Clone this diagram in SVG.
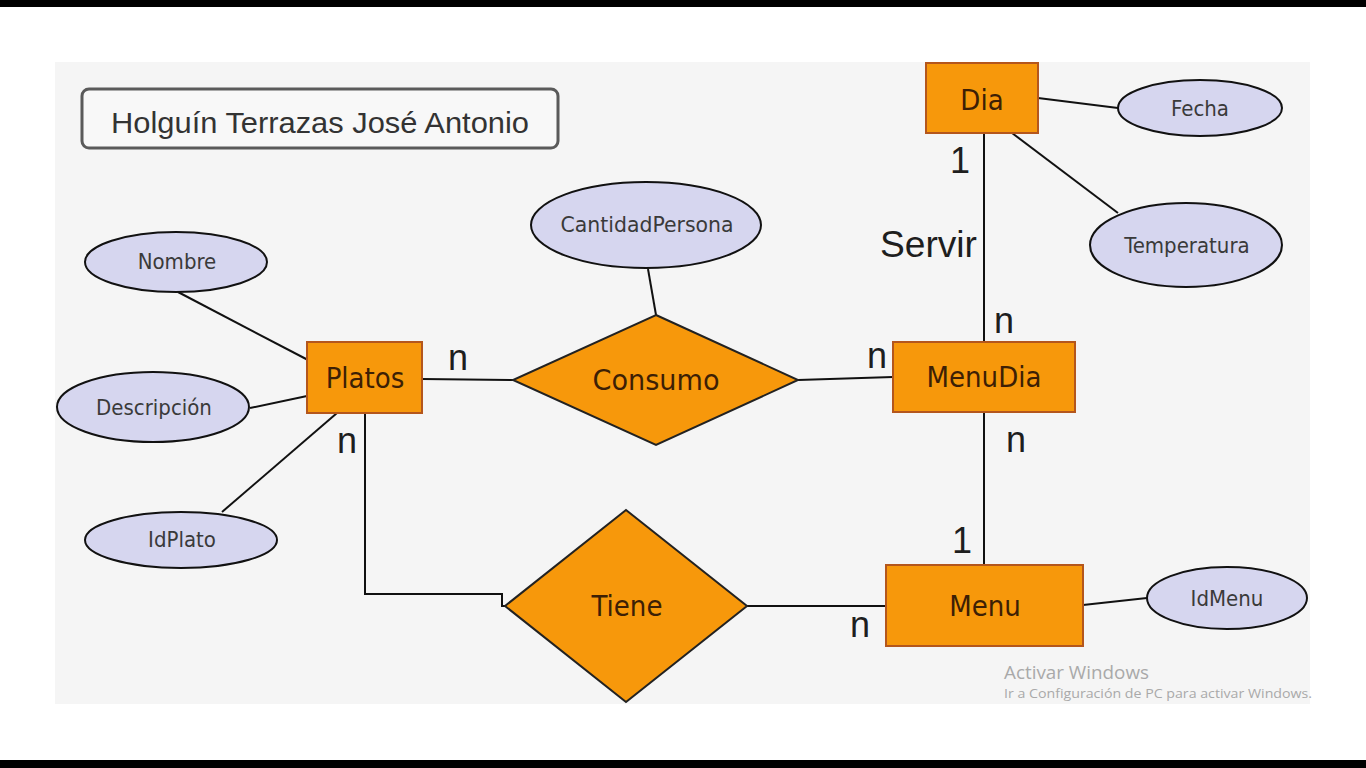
<svg xmlns="http://www.w3.org/2000/svg" width="1366" height="768" viewBox="0 0 1366 768">
<style>
.ent{fill:#f7980b;stroke:#b4561c;stroke-width:2}
.rel{fill:#f7980b;stroke:#222;stroke-width:2}
.att{fill:#d6d6ef;stroke:#111;stroke-width:2}
.lbl{font-family:"DejaVu Sans Condensed","DejaVu Sans",sans-serif;text-anchor:middle}
.et{font-size:29px;fill:#3d1f05}
.at{font-size:22px;fill:#3a3a3a}
.card{font-family:"Liberation Sans",Arial,sans-serif;font-size:36px;fill:#1e1e1e;text-anchor:middle}
.conn line,.conn path{stroke:#111;stroke-width:2;fill:none}
.wm{font-family:"Open Sans","Noto Sans",sans-serif;fill:#a9a9a9}
</style>
<rect x="0" y="0" width="1366" height="768" fill="#ffffff"/>
<rect x="0" y="0" width="1366" height="7" fill="#000"/>
<rect x="0" y="760" width="1366" height="8" fill="#000"/>
<rect x="55" y="62" width="1255" height="642" fill="#f5f5f5"/>

<g id="title">
<rect x="82" y="89" width="476" height="59" rx="7" fill="#f8f8f8" stroke="#5a5a5a" stroke-width="3"/>
<text x="111" y="133" font-family="'Liberation Sans',Arial,sans-serif" font-size="30" fill="#333" textLength="418" lengthAdjust="spacingAndGlyphs">Holguín Terrazas José Antonio</text>
</g>

<g class="conn" id="connectors">
<line x1="1038" y1="98" x2="1118" y2="108"/>
<line x1="1012" y1="133" x2="1118" y2="213"/>
<line x1="984" y1="133" x2="984" y2="342"/>
<line x1="648" y1="269" x2="656" y2="315"/>
<line x1="422" y1="379" x2="513" y2="380"/>
<line x1="798" y1="380" x2="893" y2="377"/>
<line x1="984" y1="412" x2="984" y2="565"/>
<line x1="1083" y1="605" x2="1147" y2="598"/>
<line x1="747" y1="606" x2="886" y2="606"/>
<path d="M365,413 V594 H502 V606 H505"/>
<line x1="178" y1="292" x2="308" y2="360"/>
<line x1="250" y1="408" x2="307" y2="396"/>
<line x1="222" y1="512" x2="337" y2="413"/>
</g>

<g id="Dia"><rect class="ent" x="926" y="63" width="112" height="70"/><text class="lbl et" x="982" y="110">Dia</text></g>
<g id="Platos"><rect class="ent" x="307" y="342" width="115" height="71"/><text class="lbl et" x="365" y="388">Platos</text></g>
<g id="MenuDia"><rect class="ent" x="893" y="342" width="182" height="70"/><text class="lbl et" x="984" y="387">MenuDia</text></g>
<g id="Menu"><rect class="ent" x="886" y="565" width="197" height="81"/><text class="lbl et" x="985" y="616">Menu</text></g>

<g id="Consumo"><polygon class="rel" points="656,315 798,380 656,445 513,380"/><text class="lbl et" x="656" y="390" textLength="127" lengthAdjust="spacingAndGlyphs">Consumo</text></g>
<g id="Tiene"><polygon class="rel" points="626,510 747,606 626,702 505,606"/><text class="lbl et" x="627" y="616">Tiene</text></g>

<g id="Fecha"><ellipse class="att" cx="1200" cy="108" rx="82" ry="28"/><text class="lbl at" x="1200" y="116">Fecha</text></g>
<g id="Temperatura"><ellipse class="att" cx="1186" cy="245" rx="96" ry="42"/><text class="lbl at" x="1187" y="253">Temperatura</text></g>
<g id="CantidadPersona"><ellipse class="att" cx="646" cy="225" rx="115" ry="43"/><text class="lbl at" x="647" y="232" textLength="173" lengthAdjust="spacingAndGlyphs">CantidadPersona</text></g>
<g id="Nombre"><ellipse class="att" cx="176" cy="262" rx="91" ry="30"/><text class="lbl at" x="177" y="269">Nombre</text></g>
<g id="Descripcion"><ellipse class="att" cx="153" cy="407" rx="96" ry="35"/><text class="lbl at" x="154" y="415">Descripción</text></g>
<g id="IdPlato"><ellipse class="att" cx="181" cy="540" rx="96" ry="28"/><text class="lbl at" x="182" y="547">IdPlato</text></g>
<g id="IdMenu"><ellipse class="att" cx="1227" cy="598" rx="80" ry="31"/><text class="lbl at" x="1227" y="606">IdMenu</text></g>

<g id="cardinalities">
<text class="card" x="960" y="173">1</text>
<text x="880" y="257" font-family="'Liberation Sans',Arial,sans-serif" font-size="36" fill="#1e1e1e" textLength="97" lengthAdjust="spacingAndGlyphs">Servir</text>
<text class="card" x="1004" y="333">n</text>
<text class="card" x="877" y="368">n</text>
<text class="card" x="1016" y="452">n</text>
<text class="card" x="962" y="553">1</text>
<text class="card" x="860" y="637">n</text>
<text class="card" x="458" y="370">n</text>
<text class="card" x="347" y="453">n</text>
</g>

<g id="watermark">
<text class="wm" x="1004" y="679" font-size="19" textLength="145" lengthAdjust="spacingAndGlyphs">Activar Windows</text>
<text class="wm" x="1004" y="698" font-size="13" textLength="308" lengthAdjust="spacingAndGlyphs">Ir a Configuración de PC para activar Windows.</text>
</g>
</svg>
